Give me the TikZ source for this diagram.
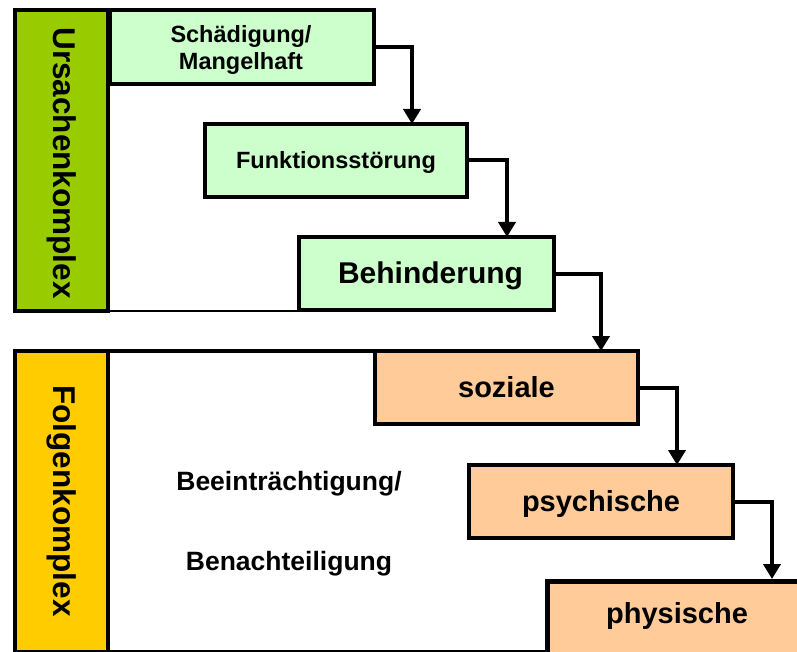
\documentclass[tikz,border=0pt]{standalone}
\usepackage{fontspec}
\setmainfont{Liberation Sans}
\usetikzlibrary{arrows.meta}
\definecolor{barGreen}{HTML}{99CC00}
\definecolor{barYellow}{HTML}{FFCC00}
\definecolor{boxGreen}{HTML}{CCFFCC}
\definecolor{boxOrange}{HTML}{FFCC99}
\begin{document}
\begin{tikzpicture}[x=1pt,y=-1pt,
  bar/.style={draw=black,line width=4.5pt},
  stage/.style={draw=black,line width=4.5pt,rectangle,inner sep=0pt,font=\bfseries},
  small/.style={font=\bfseries\fontsize{23.5}{27}\selectfont},
  large/.style={font=\bfseries\fontsize{29}{32}\selectfont,text height=25pt,text depth=6pt},
  flow/.style={line width=4pt,-{Triangle[width=17pt,length=15pt]}},
  frame/.style={line width=2.5pt},
  side/.style={rotate=-90,font=\bfseries\fontsize{31.5}{34}\selectfont}]
\useasboundingbox (0,0) rectangle (797,652);
\clip (0,0) rectangle (797,652);

% cause complex: side bar and its frame
\filldraw[bar,fill=barGreen] (15,10) rectangle (108,311);
\node[side] (ursache) at (62,163) {Ursachenkomplex};
\draw[frame] (108,311) -- (299,311);

% consequence complex: side bar and its frame
\filldraw[bar,fill=barYellow] (15,351) rectangle (108,655);
\node[side] (folge) at (62,501) {Folgenkomplex};
\draw[bar] (108,351) -- (375,351);
\draw[frame] (15,651) -- (797,651);

% stages
\node[stage,fill=boxGreen,minimum width=264pt,minimum height=74pt] (b1) at (242,47) {};
\node[small,align=center] (b1t) at (241,50) {Schädigung/\\Mangelhaft};
\node[stage,fill=boxGreen,minimum width=262pt,minimum height=73pt,small,text height=20pt,text depth=4pt] (b2) at (336,160.5) {Funktionsstörung};
\node[stage,fill=boxGreen,minimum width=255pt,minimum height=73pt,large,font=\bfseries\fontsize{30}{33}\selectfont] (b3) at (426.5,273.5) {\hspace*{8pt}Behinderung};
\node[stage,fill=boxOrange,minimum width=263pt,minimum height=73pt,large] (b4) at (506.5,387.5) {soziale};
\node[stage,fill=boxOrange,minimum width=264pt,minimum height=73pt,large] (b5) at (601,501.5) {psychische};
\node[stage,fill=boxOrange,anchor=north west,minimum width=265pt,minimum height=80pt] (b6) at (545,579) {};
\node[large] (b6t) at (677,614) {physische};

% label of the consequence complex
\node[font=\bfseries\fontsize{26.5}{30}\selectfont] (beein) at (289,484) {Beeinträchtigung/};
\node[font=\bfseries\fontsize{26.5}{30}\selectfont] (benach) at (289,564) {Benachteiligung};

% connectors
\coordinate (t2) at (412,124);
\coordinate (t3) at (507,237);
\coordinate (t4) at (601,351);
\coordinate (t5) at (677,465);
\coordinate (t6) at (772,579);
\draw[flow] (b1.east) -| (t2);
\draw[flow] (b2.east) -| (t3);
\draw[flow] (b3.east) -| (t4);
\draw[flow] (b4.east) -| (t5);
\draw[flow] (b5.east) -| (t6);
\end{tikzpicture}
\end{document}
